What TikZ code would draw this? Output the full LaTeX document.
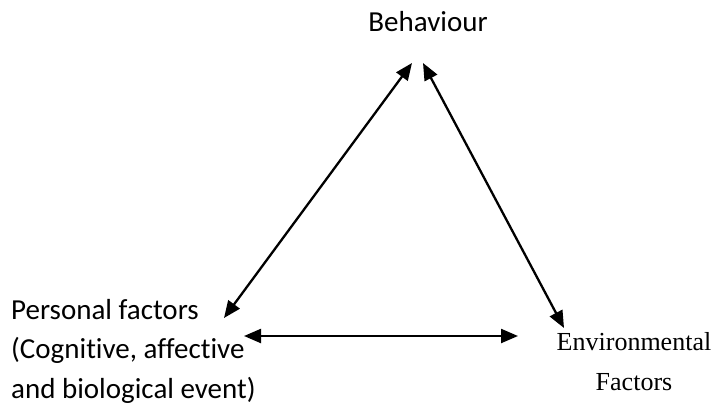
\documentclass[tikz,border=0pt]{standalone}
\usepackage{fontspec}
\setmainfont[Ligatures={TeX,NoCommon}]{Carlito}
\newfontfamily\timesfont{Liberation Serif}
\usepackage{tikz}
\usetikzlibrary{arrows.meta,positioning}
\tikzset{
	factor/.style={inner sep=0pt, font=\fontsize{29}{39.5}\selectfont, align=left},
	envfactor/.style={inner sep=0pt, font=\timesfont\fontsize{26}{40}\selectfont, align=center},
	link/.style={line width=2.3pt, {Triangle[length=17pt,width=14pt]}-{Triangle[length=17pt,width=14pt]}}
}
\newcommand{\connectfactors}[2]{
	\draw[link] (#1) -- (#2);
}

\begin{document}
\begin{tikzpicture}[x=1pt, y=-1pt]
	\useasboundingbox (0,0) rectangle (718,407);

	\node[factor] (behaviour) at (428,22) {Behaviour};
	\node[factor, anchor=north west] (personal) at (11,299) {Personal factors\\(Cognitive, affective\\and biological event)};
	\node[envfactor] (environmental) at (634,362) {Environmental\\Factors};

	% arrow ends
	\coordinate (behaviour-left) at (412,63);
	\coordinate (behaviour-right) at (423,63);
	\coordinate (personal-top) at (224,318);
	\coordinate (personal-right) at (244,336);
	\coordinate (environmental-top) at (564,328);
	\coordinate (environmental-left) at (518,336);

	\connectfactors{behaviour-left}{personal-top};
	\connectfactors{behaviour-right}{environmental-top};
	\connectfactors{personal-right}{environmental-left};
\end{tikzpicture}
\end{document}
